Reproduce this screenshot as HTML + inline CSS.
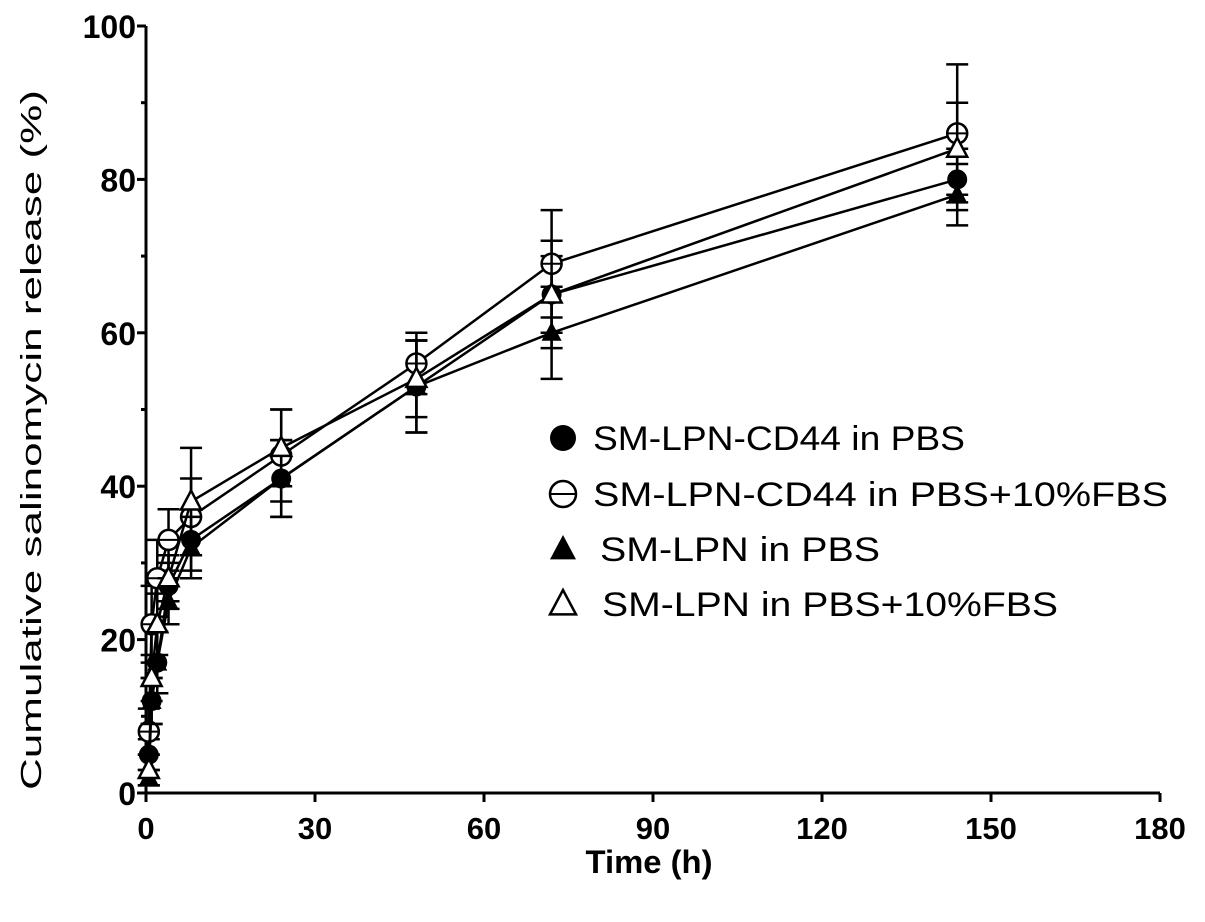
<!DOCTYPE html>
<html><head><meta charset="utf-8"><style>
html,body{margin:0;padding:0;background:#fff;}
svg{display:block;font-family:"Liberation Sans",Arial,sans-serif;}
</style></head><body>
<svg id="chart" width="1205" height="922" viewBox="0 0 1205 922" xmlns="http://www.w3.org/2000/svg">
<g id="axes"></g>
<g id="series"></g>
<g id="legend"></g>
<text x="649" y="873" font-size="32" font-weight="bold" text-anchor="middle" textLength="127" lengthAdjust="spacingAndGlyphs">Time (h)</text>
<text transform="translate(41,440) rotate(-90)" font-size="29" text-anchor="middle" textLength="700" lengthAdjust="spacingAndGlyphs">Cumulative salinomycin release (%)</text>
</svg>
<script>
const times = [0.5, 1, 2, 4, 8, 24, 48, 72, 144];
const seriesNames = ["SM-LPN-CD44 in PBS","SM-LPN-CD44 in PBS+10%FBS","SM-LPN in PBS","SM-LPN in PBS+10%FBS"];
const cd44Pbs = [5, 12, 17, 27, 33, 41, 53, 65, 80];
const cd44Fbs = [8, 22, 28, 33, 36, 44, 56, 69, 86];
const lpnPbs = [2, 12, 17, 25, 32, 41, 53, 60, 78];
const lpnFbs = [3, 15, 22, 28, 38, 45, 54, 65, 84];
const cd44PbsErr = [2, 3, 4, 3, 4, 5, 6, 5, 4];
const cd44FbsErr = [3, 5, 5, 4, 5, 6, 4, 7, 9];
const lpnPbsErr = [1, 3, 4, 3, 4, 5, 6, 6, 4];
const lpnFbsErr = [2, 3, 4, 3, 7, 5, 5, 7, 6];
const xTicks = [0, 30, 60, 90, 120, 150, 180];
const yTicks = [0, 20, 40, 60, 80, 100];
const legendWidths = [372, 575, 280, 456];

const NS="http://www.w3.org/2000/svg";
const X0=146,X1=1160,Y0=793,Y1=26;
const xs=v=>X0+(v/180)*(X1-X0);
const ys=v=>Y0-(v/100)*(Y0-Y1);
function mk(tag,attrs,parent){const e=document.createElementNS(NS,tag);for(const k in attrs)e.setAttribute(k,attrs[k]);parent.appendChild(e);return e;}
const axes=document.getElementById('axes');
let e=mk('line',{x1:X0,y1:Y0,x2:X1,y2:Y0,stroke:'#000','stroke-width':3},axes);


e=mk('line',{x1:X0,y1:Y0,x2:X0,y2:Y1,stroke:'#000','stroke-width':3},axes);


xTicks.forEach(t=>{
  mk('line',{x1:xs(t),y1:Y0,x2:xs(t),y2:Y0+9,stroke:'#000','stroke-width':3},axes);
  const tx=mk('text',{x:xs(t),y:Y0+46,'font-size':31,'font-weight':'bold','text-anchor':'middle'},axes);
  tx.textContent=t;
  
  
});
for(let i=0;i<=10;i++){const v=i*10;mk('line',{x1:X0-(i%2?5:9),y1:ys(v),x2:X0,y2:ys(v),stroke:'#000','stroke-width':3},axes);}
yTicks.forEach(t=>{
  const tx=mk('text',{x:X0-10,y:ys(t)+12,'font-size':32,'font-weight':'bold','text-anchor':'end'},axes);
  tx.textContent=t;
  
  
});
function marker(type,cx,cy,r,parent){
  let m;
  if(type==='fc'){m=mk('circle',{cx,cy,r,fill:'#000'},parent);}
  else if(type==='oc'){const g=mk('g',{},parent);mk('circle',{cx,cy,r,fill:'#fff',stroke:'#000','stroke-width':2.5},g);mk('line',{x1:cx-r,y1:cy,x2:cx+r,y2:cy,stroke:'#000','stroke-width':2},g);m=g;}
  else if(type==='ft'){m=mk('polygon',{points:`${cx},${cy-r-1} ${cx-r},${cy+r*0.8} ${cx+r},${cy+r*0.8}`,fill:'#000'},parent);}
  else {m=mk('polygon',{points:`${cx},${cy-r-1} ${cx-r},${cy+r*0.8} ${cx+r},${cy+r*0.8}`,fill:'#fff',stroke:'#000','stroke-width':2.5},parent);}
  return m;
}
const sData=[[cd44Pbs,cd44PbsErr,'fc'],[cd44Fbs,cd44FbsErr,'oc'],[lpnPbs,lpnPbsErr,'ft'],[lpnFbs,lpnFbsErr,'ot']];
const sg=document.getElementById('series');
sData.forEach((s,si)=>{
  const g=mk('g',{},sg);
  
  
  const pl=mk('polyline',{points:times.map((t,i)=>xs(t)+','+ys(s[0][i])).join(' '),fill:'none',stroke:'#000','stroke-width':2.5},g);
  
  
  times.forEach((t,i)=>{
    const x=xs(t),v=s[0][i],er=s[1][i];
    mk('line',{x1:x,y1:ys(v+er),x2:x,y2:ys(v-er),stroke:'#000','stroke-width':2.5},g);
    mk('line',{x1:x-11,y1:ys(v+er),x2:x+11,y2:ys(v+er),stroke:'#000','stroke-width':2.5},g);
    mk('line',{x1:x-11,y1:ys(v-er),x2:x+11,y2:ys(v-er),stroke:'#000','stroke-width':2.5},g);
  });
  times.forEach((t,i)=>{
    const m=marker(s[2],xs(t),ys(s[0][i]),10,g);
    
    
  });
});
const lg=document.getElementById('legend');
const lys=[438,494,549,604];
sData.forEach((s,i)=>{
  const g=mk('g',{},lg);
  
  
  marker(s[2],563,lys[i],13,g);
  const tx=mk('text',{x:i===2?600:(i===3?602:593),y:lys[i]+12,'font-size':34,textLength:legendWidths[i],lengthAdjust:'spacingAndGlyphs'},g);
  tx.textContent=seriesNames[i];
});
</script>
</body></html>
